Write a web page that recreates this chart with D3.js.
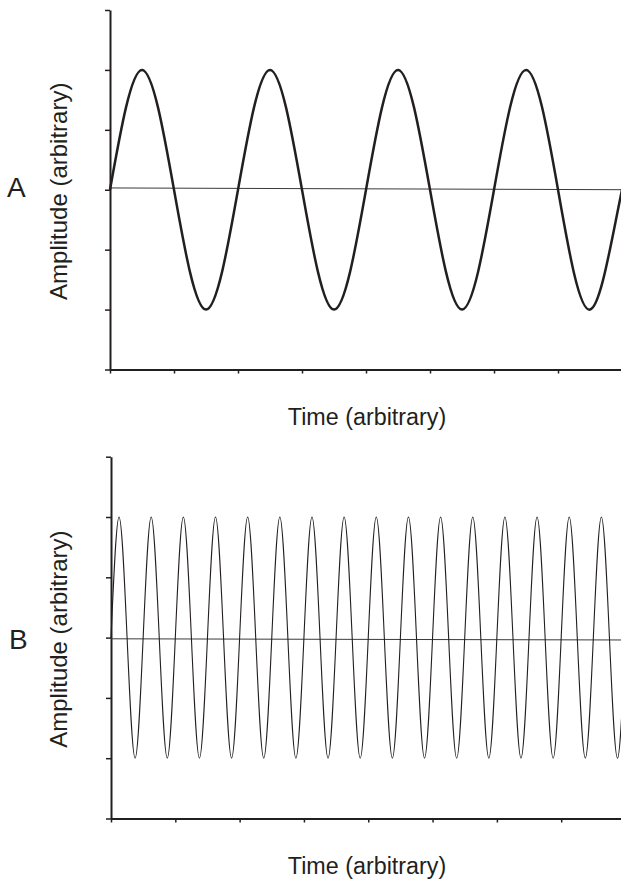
<!DOCTYPE html>
<html lang="en">
  <head>
    <meta charset="utf-8">
    <title>Amplitude vs time</title>
    <script src="https://d3js.org/d3.v7.min.js"></script>
    <style>
      body { margin: 0; background: #fff; }
      text { font-family: "Liberation Sans", Arial, sans-serif; fill: #231f20; }
      .axis path, .axis line { stroke: #231f20; }
      .axis path { stroke-width: 2; }
      .axis line { stroke-width: 1.5; }
    </style>
  </head>
  <body>
    <div id="chart"></div>
    <script>

      // tick positions (arbitrary units)
      var xTicks = [0, 1, 2, 3, 4, 5, 6, 7];
      var yTicks = [-3, -2, -1, 0, 1, 2, 3];

      // panel A: slow wave, sampled at quarter periods
      var timeA = [0, 0.5, 1, 1.5, 2, 2.5, 3, 3.5, 4, 4.5, 5, 5.5, 6, 6.5, 7, 7.5, 8, 8.5];
      var ampA  = [0, 2, 0, -2, 0, 2, 0, -2, 0, 2, 0, -2, 0, 2, 0, -2, 0, 2];

      // panel B: fast wave, sampled at quarter periods
      var timeB = [0, 0.125, 0.25, 0.375, 0.5, 0.625, 0.75, 0.875,
                   1, 1.125, 1.25, 1.375, 1.5, 1.625, 1.75, 1.875,
                   2, 2.125, 2.25, 2.375, 2.5, 2.625, 2.75, 2.875,
                   3, 3.125, 3.25, 3.375, 3.5, 3.625, 3.75, 3.875,
                   4, 4.125, 4.25, 4.375, 4.5, 4.625, 4.75, 4.875,
                   5, 5.125, 5.25, 5.375, 5.5, 5.625, 5.75, 5.875,
                   6, 6.125, 6.25, 6.375, 6.5, 6.625, 6.75, 6.875,
                   7, 7.125, 7.25, 7.375, 7.5, 7.625, 7.75, 7.875,
                   8, 8.125, 8.25];
      var ampB  = [0, 2, 0, -2, 0, 2, 0, -2,
                   0, 2, 0, -2, 0, 2, 0, -2,
                   0, 2, 0, -2, 0, 2, 0, -2,
                   0, 2, 0, -2, 0, 2, 0, -2,
                   0, 2, 0, -2, 0, 2, 0, -2,
                   0, 2, 0, -2, 0, 2, 0, -2,
                   0, 2, 0, -2, 0, 2, 0, -2,
                   0, 2, 0, -2, 0, 2, 0, -2,
                   0, 2, 0];

      // zero reference lines (start, end)
      var zeroTime = [0, 8.2];
      var zeroA = [0.03, 0];
      var zeroB = [-0.02, -0.04];

      var width = 621;
      var height = 881;

      var svg = d3.select("#chart")
        .append("svg")
        .attr("width", width)
        .attr("height", height);

      function panel(cfg) {
        var g = svg.append("g");

        var xScale = d3.scaleLinear()
          .domain([0, cfg.xMax])
          .range([cfg.left, width]);

        var yScale = d3.scaleLinear()
          .domain([-3, 3])
          .range([cfg.bottom, cfg.top]);

        g.append("g")
          .attr("class", "axis")
          .attr("transform", `translate(0,${cfg.bottom})`)
          .call(d3.axisBottom(xScale).tickValues(xTicks).tickSize(4).tickSizeOuter(0).tickFormat(""));

        g.append("g")
          .attr("class", "axis")
          .attr("transform", `translate(${cfg.left},0)`)
          .call(d3.axisLeft(yScale).tickValues(yTicks).tickSize(5).tickSizeOuter(0).tickFormat(""));

        // zero line
        var zero = zeroTime.map(function(t, i){ return {t: t, v: cfg.zero[i]}; });
        g.append("path")
          .datum(zero)
          .attr("fill", "none")
          .attr("stroke", "#3a3a3a")
          .attr("stroke-width", 1)
          .attr("d", d3.line()
            .x(function(d){ return xScale(d.t); })
            .y(function(d){ return yScale(d.v); }));

        // the wave
        var pts = cfg.time.map(function(t, i){ return {t: t, v: cfg.amp[i]}; });
        g.append("path")
          .datum(pts)
          .attr("fill", "none")
          .attr("stroke", "#231f20")
          .attr("stroke-width", cfg.lineWidth)
          .attr("d", d3.line()
            .curve(d3.curveNatural)
            .x(function(d){ return xScale(d.t); })
            .y(function(d){ return yScale(d.v); }));

        var mid = yScale(0);

        g.append("text")
          .attr("x", cfg.letterX)
          .attr("y", cfg.letterY)
          .attr("font-size", 28)
          .text(cfg.letter);

        g.append("text")
          .attr("transform", `translate(67,${mid + 1.5}) rotate(-90)`)
          .attr("text-anchor", "middle")
          .attr("font-size", 24)
          .text("Amplitude (arbitrary)");

        g.append("text")
          .attr("x", 367)
          .attr("y", cfg.bottom + 55)
          .attr("text-anchor", "middle")
          .attr("font-size", 23.3)
          .text("Time (arbitrary)");
      }

      panel({letter: "A", letterX: 7, letterY: 197, left: 110, xMax: 7.984, top: 10, bottom: 369.5,
             time: timeA, amp: ampA, zero: zeroA, lineWidth: 2.5});
      panel({letter: "B", letterX: 9, letterY: 649, left: 111, xMax: 7.93, top: 456.7, bottom: 818.5,
             time: timeB, amp: ampB, zero: zeroB, lineWidth: 1.1});

    </script>
  </body>
</html>
